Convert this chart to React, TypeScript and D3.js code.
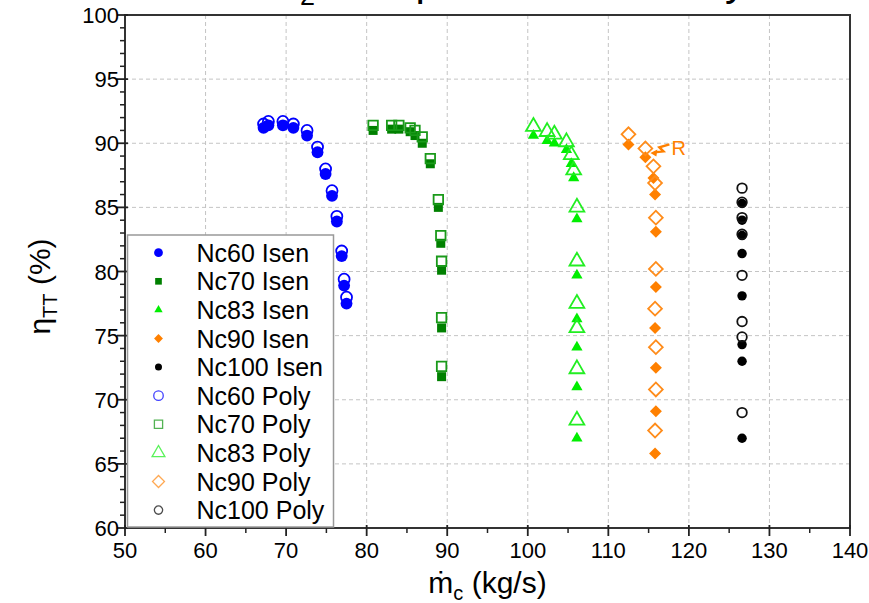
import React, { useEffect, useRef } from "react";
import * as d3 from "d3";

// corrected mass flow (kg/s) and efficiency (%)
const nc60X = [67.2, 67.8, 69.6, 70.9, 72.6, 73.9, 74.9, 75.7, 76.3, 76.9, 77.2, 77.5];
const nc60Isen = [91.2, 91.4, 91.4, 91.2, 90.6, 89.3, 87.6, 85.9, 83.9, 81.2, 78.9, 77.5];
const nc60Poly = [91.5, 91.7, 91.7, 91.5, 91.0, 89.7, 88.0, 86.3, 84.3, 81.6, 79.4, 78.0];

const nc70X = [80.8, 83.1, 84.0, 85.4, 86.0, 86.9, 87.9, 88.9, 89.2, 89.3, 89.3, 89.3];
const nc70Isen = [91.0, 91.1, 91.1, 90.9, 90.6, 90.0, 88.4, 85.0, 82.2, 80.1, 75.6, 71.8];
const nc70Poly = [91.4, 91.4, 91.4, 91.2, 91.0, 90.5, 88.8, 85.6, 82.8, 80.8, 76.4, 72.6];

const nc83X = [100.7, 102.4, 103.3, 104.8, 105.4, 105.7, 106.1, 106.1, 106.1, 106.1, 106.1, 106.1];
const nc83Isen = [90.6, 90.2, 90.0, 89.5, 88.4, 87.3, 84.1, 79.7, 76.3, 74.1, 71.0, 67.0];
const nc83Poly = [91.3, 90.9, 90.7, 90.1, 89.1, 87.9, 85.0, 80.8, 77.5, 75.6, 72.4, 68.4];

const nc90X = [112.5, 114.6, 115.6, 115.8, 115.9, 115.9, 115.8, 115.9, 115.9, 115.8];
const nc90Isen = [89.9, 88.9, 87.3, 86.0, 83.1, 78.8, 75.6, 72.5, 69.1, 65.8];
const nc90Poly = [90.7, 89.6, 88.2, 86.9, 84.2, 80.2, 77.1, 74.1, 70.8, 67.6];

const nc100X = [126.6, 126.6, 126.6, 126.6, 126.6, 126.6, 126.6, 126.6];
const nc100Isen = [85.3, 84.0, 82.8, 81.4, 78.1, 74.3, 73.0, 67.0];
const nc100Poly = [86.5, 85.4, 84.2, 82.9, 79.7, 76.1, 74.9, 69.0];

const xTicks = [50, 60, 70, 80, 90, 100, 110, 120, 130, 140];
const yTicks = [60, 65, 70, 75, 80, 85, 90, 95, 100];

const series = [
  { name: "Nc60 Isen", xs: nc60X, ys: nc60Isen, color: "#0000ff", shape: "circle", filled: true, size: 110 },
  { name: "Nc70 Isen", xs: nc70X, ys: nc70Isen, color: "#008000", shape: "square", filled: true, size: 81 },
  { name: "Nc83 Isen", xs: nc83X, ys: nc83Isen, color: "#00ee00", shape: "triangle", filled: true, size: 55 },
  { name: "Nc90 Isen", xs: nc90X, ys: nc90Isen, color: "#ff8000", shape: "diamond", filled: true, size: 72 },
  { name: "Nc100 Isen", xs: nc100X, ys: nc100Isen, color: "#000000", shape: "circle", filled: true, size: 70 },
  { name: "Nc60 Poly", xs: nc60X, ys: nc60Poly, color: "#0000ff", shape: "circle", filled: false, size: 95 },
  { name: "Nc70 Poly", xs: nc70X, ys: nc70Poly, color: "#1a9a1a", shape: "square", filled: false, size: 90 },
  { name: "Nc83 Poly", xs: nc83X, ys: nc83Poly, color: "#22ee22", shape: "triangle", filled: false, size: 95 },
  { name: "Nc90 Poly", xs: nc90X, ys: nc90Poly, color: "#ff8c1a", shape: "diamond", filled: false, size: 95 },
  { name: "Nc100 Poly", xs: nc100X, ys: nc100Poly, color: "#111111", shape: "circle", filled: false, size: 72 },
];

const FONT = "'Liberation Sans', Arial, Helvetica, sans-serif";

const symbolPath = (shape, size) => {
  const type =
    shape === "square" || shape === "diamond"
      ? d3.symbolSquare
      : shape === "triangle"
      ? d3.symbolTriangle
      : d3.symbolCircle;
  return d3.symbol().type(type).size(size)();
};

const App = () => {
  const svgRef = useRef<SVGSVGElement>(null);

  useEffect(() => {
    const svg = d3.select(svgRef.current);
    svg.selectAll("*").remove();

    const W = 869;
    const H = 603;
    const margin = { top: 15, right: 19, bottom: 75, left: 125 };
    const width = W - margin.left - margin.right;
    const height = H - margin.top - margin.bottom;

    const x = d3.scaleLinear().domain([50, 140]).range([0, width]);
    const y = d3.scaleLinear().domain([60, 100]).range([height, 0]);

    // cut-off title above the frame (only descenders show)
    const title = svg
      .append("text")
      .attr("x", 237)
      .attr("y", -5)
      .style("font-family", FONT)
      .style("font-size", "42px")
      .attr("fill", "#000");
    title.append("tspan").text("CO");
    title.append("tspan").attr("dy", 10).style("font-size", "27px").text("2");
    title.append("tspan").attr("dy", -10).text(" Compressor Efficiency");

    const g = svg.append("g").attr("transform", `translate(${margin.left},${margin.top})`);

    // grid
    g.selectAll(".gx")
      .data(xTicks.filter((t) => t > 50 && t < 140))
      .enter()
      .append("line")
      .attr("x1", (d) => x(d))
      .attr("x2", (d) => x(d))
      .attr("y1", 0)
      .attr("y2", height)
      .attr("stroke", "#c4c4c4")
      .attr("stroke-width", 1)
      .attr("stroke-dasharray", "4,3");
    g.selectAll(".gy")
      .data(yTicks.filter((t) => t > 60 && t < 100))
      .enter()
      .append("line")
      .attr("x1", 0)
      .attr("x2", width)
      .attr("y1", (d) => y(d))
      .attr("y2", (d) => y(d))
      .attr("stroke", "#c4c4c4")
      .attr("stroke-width", 1)
      .attr("stroke-dasharray", "4,3");

    // markers: Isen first, Poly on top
    series.forEach((s) => {
      const path = symbolPath(s.shape, s.size);
      g.append("g")
        .selectAll("path")
        .data(s.xs.map((v, i) => [v, s.ys[i]]))
        .enter()
        .append("path")
        .attr("d", path)
        .attr(
          "transform",
          (d) => `translate(${x(d[0])},${y(d[1])})${s.shape === "diamond" ? " rotate(45)" : ""}`
        )
        .attr("fill", s.filled ? s.color : "none")
        .attr("stroke", s.filled ? "none" : s.color)
        .attr("stroke-width", s.filled ? 0 : 1.8);
    });

    // R annotation pointing at the Nc90 design point
    const rx = x(nc90X[1]);
    const ry = y(nc90Poly[1]);
    g.append("path")
      .attr(
        "d",
        `M${rx + 24},${ry - 4} L${rx + 14},${ry - 1} L${rx + 18},${ry + 3} L${rx + 9},${ry + 4}`
      )
      .attr("fill", "none")
      .attr("stroke", "#ff8000")
      .attr("stroke-width", 2.5);
    g.append("path")
      .attr("d", `M${rx + 5},${ry + 4.5} L${rx + 12},${ry + 1} L${rx + 11},${ry + 8} Z`)
      .attr("fill", "#ff8000");
    g.append("text")
      .attr("x", rx + 26)
      .attr("y", ry + 7)
      .style("font-family", FONT)
      .style("font-size", "20px")
      .attr("fill", "#ff8000")
      .text("R");

    // frame
    g.append("rect")
      .attr("x", 0)
      .attr("y", 0)
      .attr("width", width)
      .attr("height", height)
      .attr("fill", "none")
      .attr("stroke", "#333")
      .attr("stroke-width", 2);

    // x ticks
    g.selectAll(".xminor")
      .data(d3.range(55, 140, 10))
      .enter()
      .append("line")
      .attr("x1", (d) => x(d))
      .attr("x2", (d) => x(d))
      .attr("y1", height)
      .attr("y2", height + 5)
      .attr("stroke", "#222")
      .attr("stroke-width", 1.5);
    g.selectAll(".xmajor")
      .data(xTicks)
      .enter()
      .append("line")
      .attr("x1", (d) => x(d))
      .attr("x2", (d) => x(d))
      .attr("y1", height - 3)
      .attr("y2", height + 8)
      .attr("stroke", "#222")
      .attr("stroke-width", 1.8);
    g.selectAll(".xlab")
      .data(xTicks)
      .enter()
      .append("text")
      .attr("x", (d) => x(d))
      .attr("y", height + 30)
      .attr("text-anchor", "middle")
      .style("font-family", FONT)
      .style("font-size", "22px")
      .text((d) => d);

    // y ticks
    g.selectAll(".yminor")
      .data(d3.range(61, 100, 1).filter((v) => v % 5 !== 0))
      .enter()
      .append("line")
      .attr("x1", -5)
      .attr("x2", 0)
      .attr("y1", (d) => y(d))
      .attr("y2", (d) => y(d))
      .attr("stroke", "#222")
      .attr("stroke-width", 1.5);
    g.selectAll(".ymajor")
      .data(yTicks)
      .enter()
      .append("line")
      .attr("x1", -8)
      .attr("x2", 3)
      .attr("y1", (d) => y(d))
      .attr("y2", (d) => y(d))
      .attr("stroke", "#222")
      .attr("stroke-width", 1.8);
    g.selectAll(".ylab")
      .data(yTicks)
      .enter()
      .append("text")
      .attr("x", -6)
      .attr("y", (d) => y(d) + 8)
      .attr("text-anchor", "end")
      .style("font-family", FONT)
      .style("font-size", "22px")
      .text((d) => d);

    // axis titles
    const xt = g
      .append("text")
      .attr("x", width / 2)
      .attr("y", height + 65)
      .attr("text-anchor", "middle")
      .style("font-family", FONT)
      .style("font-size", "30px");
    xt.append("tspan").text("\u1E41");
    xt.append("tspan").attr("dy", 7).style("font-size", "20px").text("c");
    xt.append("tspan").attr("dy", -7).text(" (kg/s)");

    const yt = g
      .append("text")
      .attr("transform", `translate(${-75},${height / 2 + 15}) rotate(-90)`)
      .attr("text-anchor", "middle")
      .style("font-family", FONT)
      .style("font-size", "30px");
    yt.append("tspan").text("\u03B7");
    yt.append("tspan").attr("dy", 7).style("font-size", "20px").text("TT");
    yt.append("tspan").attr("dy", -7).text(" (%)");

    // legend
    const lg = g.append("g").attr("transform", `translate(2.5,${220})`);
    lg.append("rect")
      .attr("x", 0)
      .attr("y", 0)
      .attr("width", 206)
      .attr("height", height - 221)
      .attr("fill", "#fff")
      .attr("stroke", "#999")
      .attr("stroke-width", 1.5);
    series.forEach((s, i) => {
      const cy = 17.7 + i * 28.6;
      const legSize = s.filled ? s.size * 0.55 : s.size * 0.75;
      lg.append("path")
        .attr("d", symbolPath(s.shape, legSize))
        .attr("transform", `translate(31,${cy})${s.shape === "diamond" ? " rotate(45)" : ""}`)
        .attr("fill", s.filled ? s.color : "none")
        .attr("stroke", s.filled ? "none" : s.color)
        .attr("stroke-opacity", 0.75)
        .attr("stroke-width", 1.3);
      lg.append("text")
        .attr("x", 69)
        .attr("y", cy + 9)
        .style("font-family", FONT)
        .style("font-size", "25px")
        .text(s.name);
    });
  }, []);

  return (
    <div style={{ position: "absolute", left: 0, top: 0 }}>
      <svg ref={svgRef} width={869} height={603}></svg>
    </div>
  );
};

export default App;
